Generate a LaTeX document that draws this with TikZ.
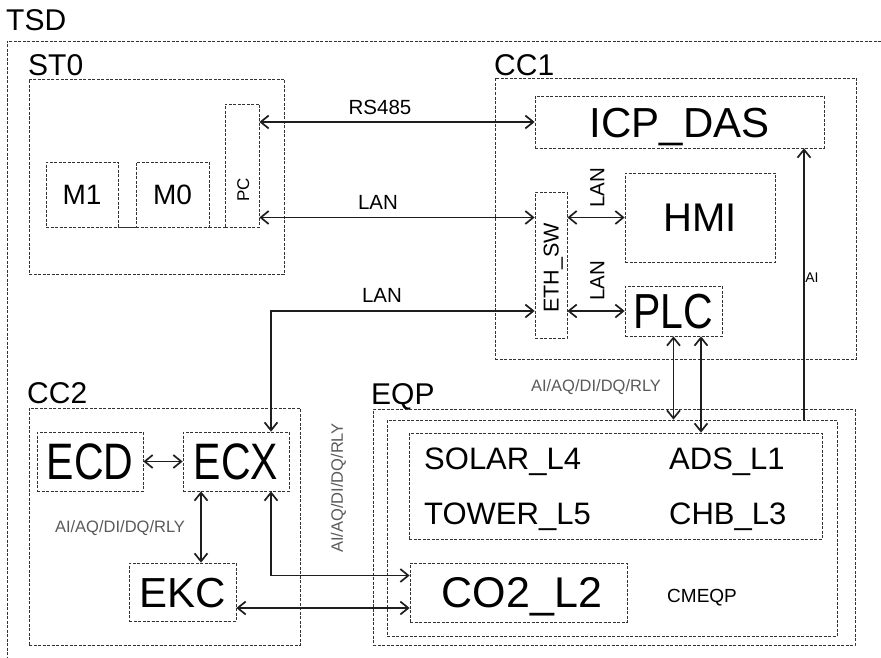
\documentclass[tikz,border=0pt]{standalone}
\usepackage{fontspec}
\setmainfont{Liberation Sans}
\usetikzlibrary{arrows.meta}
\newcommand\myfs[1]{\fontsize{#1}{#1}\selectfont}
\definecolor{boxc}{HTML}{333333}
\definecolor{arrc}{HTML}{1E1E1E}
\definecolor{sigc}{HTML}{5A5A5A}
\begin{document}
\begin{tikzpicture}[x=1pt,y=-1pt,
  frame/.style={draw=boxc, line width=0.7pt, dash pattern=on 3pt off 1.5pt},
  box/.style={draw=boxc, line width=0.7pt, dash pattern=on 3pt off 1.5pt, inner sep=0pt, text depth=0pt},
  lbl/.style={inner sep=0pt, text depth=0pt},
  grplbl/.style={inner sep=0pt, font=\myfs{30}, anchor=base west},
  sig/.style={lbl, text=sigc, font=\myfs{16.5}, text height=11.81pt},
  dbl/.style={draw=arrc, line width=1.7pt, {Straight Barb[length=8pt,width=13pt]}-{Straight Barb[length=8pt,width=13pt]}},
  sgl/.style={draw=arrc, line width=1.7pt, -{Straight Barb[length=8pt,width=13pt]}}
]
\useasboundingbox (0,0) rectangle (881,658);
% outer TSD frame
\draw[frame] (881,41) -- (7,41) -- (7,658);
\node[grplbl] (tsdlbl) at (6,31) {TSD};
\node[grplbl] (stlbl) at (28,76) {ST0};
\node[grplbl] (cconelbl) at (494,76) {CC1};
\node[grplbl] (cctwolbl) at (27,403) {CC2};
\node[grplbl] (eqplbl) at (371,404) {EQP};

% group boxes
\node[box, minimum width=255pt, minimum height=195pt] (stbox) at (156.5,176.5) {};
\node[box, minimum width=361pt, minimum height=281pt] (cconebox) at (675.5,218.5) {};
\node[box, minimum width=271pt, minimum height=237pt] (cctwobox) at (164.5,526.5) {};
\node[box, minimum width=482pt, minimum height=236pt] (eqpbox) at (614,527) {};
\node[box, minimum width=450pt, minimum height=216pt] (cmbox) at (612,528) {};
\node[box, minimum width=413pt, minimum height=106pt] (grpbox) at (615.5,486) {};

% ST0 contents
\node[box, minimum width=72pt, minimum height=65pt, font=\myfs{28}, text height=20.05pt] (Mone) at (82,194.5) {M1};
\node[box, minimum width=73pt, minimum height=65pt, font=\myfs{28}, text height=20.05pt] (Mzero) at (172.5,194.5) {M0};
\node[box, minimum width=34pt, minimum height=123pt] (PC) at (242,165.5) {};
\node[lbl, rotate=90, font=\myfs{17}, text height=12.17pt] (pctxt) at (243,190) {PC};
\draw[draw=boxc, line width=0.7pt] (Mone.south east) -- (Mzero.south west);
\draw[frame] (Mzero.south east) -- (PC.south west);

% CC1 contents
\node[box, minimum width=289pt, minimum height=52pt, font=\myfs{42}, text height=30.07pt] (ICP) at (679.5,122) {ICP\_DAS\hspace{16pt}};
\node[box, minimum width=150pt, minimum height=89pt, font=\myfs{40}, text height=28.64pt] (HMI) at (700,217.5) {HMI};
\node[box, minimum width=32pt, minimum height=146pt] (ETH) at (551,265) {};
\node[lbl, rotate=90, font=\myfs{21.5}, text height=15.39pt] (ethtxt) at (551,268) {ETH\_SW};
\node[box, minimum width=97pt, minimum height=50pt, font=\myfs{41}, text height=35.2pt] (PLC) at (673.5,311) {\scalebox{1}[1.2]{PLC}};

% CC2 contents
\node[box, minimum width=106pt, minimum height=59pt, font=\myfs{41}, text height=36.5pt] (ECD) at (90,461.5) {\scalebox{1}[1.25]{ECD}};
\node[box, minimum width=106pt, minimum height=59pt, font=\myfs{41}, text height=36.5pt] (ECX) at (236,461.5) {\scalebox{1}[1.25]{ECX}};
\node[box, minimum width=107pt, minimum height=58pt, font=\myfs{42}, text height=30.07pt] (EKC) at (182.5,592) {EKC};

% EQP contents
\node[lbl, anchor=west, font=\myfs{31}, text height=22.2pt] (solar) at (424,458) {SOLAR\_L4};
\node[lbl, anchor=west, font=\myfs{31}, text height=22.2pt] (tower) at (424,513) {TOWER\_L5};
\node[lbl, anchor=west, font=\myfs{31}, text height=22.2pt] (ads) at (669,458) {ADS\_L1};
\node[lbl, anchor=west, font=\myfs{31}, text height=22.2pt] (chb) at (669,513) {CHB\_L3};
\node[box, minimum width=217pt, minimum height=59pt, font=\myfs{43}, text height=30.79pt] (COtwo) at (518.5,592.5) {\hspace{7pt}CO2\_L2};
\node[lbl, anchor=west, font=\myfs{19}, text height=13.6pt] (cmeqp) at (667,596) {CMEQP};

% connectors
\draw[dbl] (PC.east |- ICP.west) -- (ICP.west);
\node[lbl, font=\myfs{20.5}, text height=14.68pt] (rslbl) at (380,107.5) {RS485};
\draw[dbl] (PC.east |- HMI.west) -- (ETH.west |- HMI.west);
\node[lbl, font=\myfs{20.5}, text height=14.68pt] (lanone) at (378,202.5) {LAN};
\draw[dbl] (ETH.east |- HMI.west) -- (HMI.west);
\node[lbl, rotate=90, font=\myfs{20.5}, text height=14.68pt] (lantwo) at (597,188) {LAN};
\draw[dbl] (ETH.east |- PLC.west) -- (PLC.west);
\node[lbl, rotate=90, font=\myfs{20.5}, text height=14.68pt] (lanthree) at (597,281) {LAN};
\draw[dbl] ([xshift=35pt]ECX.north) |- (ETH.west |- PLC.west);
\node[lbl, font=\myfs{20.5}, text height=14.68pt] (lanfour) at (382,295.5) {LAN};

\draw[dbl] (PLC.south) -- (PLC.south |- cmbox.north);
\draw[dbl] ([xshift=27.5pt]PLC.south) -- ([xshift=27.5pt]PLC.south |- grpbox.north);
\node[sig] (sigtop) at (596,386) {AI/AQ/DI/DQ/RLY};
\draw[sgl] ([xshift=124.5pt]ICP.south |- cmbox.north) -- ([xshift=124.5pt]ICP.south);
\node[lbl, font=\myfs{14}, text height=10.02pt] (ailbl) at (812,277) {AI};

\draw[dbl] (ECD.east) -- (ECX.west);
\draw[dbl] ([xshift=-35pt]ECX.south) -- ([xshift=-35pt]ECX.south |- EKC.north);
\node[sig] (sigleft) at (120,527) {AI/AQ/DI/DQ/RLY};
\draw[dbl] ([xshift=35pt]ECX.south) |- ([yshift=17pt]COtwo.west);
\draw[dbl] ([yshift=-16pt]EKC.east) -- ([yshift=-16pt]EKC.east -| COtwo.west);
\node[sig, rotate=90] (sigmid) at (337,488) {AI/AQ/DI/DQ/RLY};
\end{tikzpicture}
\end{document}
